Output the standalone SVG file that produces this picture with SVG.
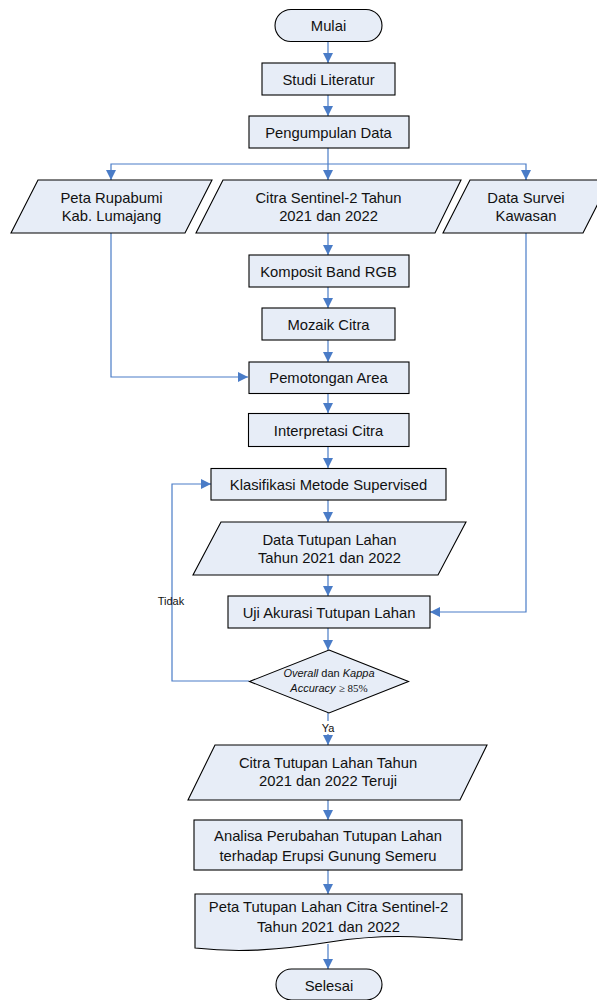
<svg xmlns="http://www.w3.org/2000/svg" width="597" height="1000" viewBox="0 0 597 1000">
<style>
.n{fill:#e7edf7;stroke:#000;stroke-width:1.1}
.t{font-family:"Liberation Sans",Arial,sans-serif;font-size:14.8px;fill:#111;text-anchor:middle}
.s{font-family:"Liberation Sans",Arial,sans-serif;font-size:11px;fill:#111;text-anchor:middle}
.c{fill:none;stroke:#4a7cc7;stroke-width:1.2}
</style>
<defs>
<marker id="a" markerUnits="userSpaceOnUse" markerWidth="10" markerHeight="10" viewBox="0 0 10 10" refX="10" refY="5" orient="auto">
<path d="M0,0 L10,5 L0,10 Z" fill="#4a7cc7"/>
</marker>
</defs>
<rect width="597" height="1000" fill="#fff"/>
<g id="connectors">
<path class="c" d="M328,42 V63" marker-end="url(#a)"/>
<path class="c" d="M328,95 V116" marker-end="url(#a)"/>
<path class="c" d="M328,148 V180" marker-end="url(#a)"/>
<path class="c" d="M328,164 H111 V180" marker-end="url(#a)"/>
<path class="c" d="M328,164 H526 V180" marker-end="url(#a)"/>
<path class="c" d="M328,233 V255" marker-end="url(#a)"/>
<path class="c" d="M328,287 V308" marker-end="url(#a)"/>
<path class="c" d="M328,340 V362" marker-end="url(#a)"/>
<path class="c" d="M111,233 V377 H248" marker-end="url(#a)"/>
<path class="c" d="M328,393 V413" marker-end="url(#a)"/>
<path class="c" d="M328,447 V468" marker-end="url(#a)"/>
<path class="c" d="M328,500 V522" marker-end="url(#a)"/>
<path class="c" d="M328,575 V596" marker-end="url(#a)"/>
<path class="c" d="M526,233 V612 H430" marker-end="url(#a)"/>
<path class="c" d="M328,628 V650" marker-end="url(#a)"/>
<path class="c" d="M249,681 H172 V484 H211" marker-end="url(#a)"/>
<path class="c" d="M328,713 V745" marker-end="url(#a)"/>
<path class="c" d="M328,800 V820" marker-end="url(#a)"/>
<path class="c" d="M328,870 V894" marker-end="url(#a)"/>
<path class="c" d="M328,944 V969" marker-end="url(#a)"/>
<rect x="318" y="721" width="20" height="13" fill="#fff"/>
<text class="s" x="328" y="732">Ya</text>
<text class="s" x="171" y="605">Tidak</text>
</g>
<g id="mulai">
<rect class="n" x="275" y="9.5" width="107" height="32" rx="16"/>
<text class="t" x="328.5" y="31">Mulai</text>
</g>
<g id="studi">
<rect class="n" x="262" y="63" width="133" height="32"/>
<text class="t" x="328.5" y="84.5">Studi Literatur</text>
</g>
<g id="pengumpulan">
<rect class="n" x="249" y="116" width="160" height="32"/>
<text class="t" x="328.5" y="137.5">Pengumpulan Data</text>
</g>
<g id="peta-rupabumi">
<polygon class="n" points="38,180 212,180 185,233 11,233"/>
<text class="t" x="111.5" y="203">Peta Rupabumi</text>
<text class="t" x="111.5" y="221">Kab. Lumajang</text>
</g>
<g id="citra-sentinel">
<polygon class="n" points="223,180 461,180 435,233 196,233"/>
<text class="t" x="328.5" y="203">Citra Sentinel-2 Tahun</text>
<text class="t" x="328.5" y="221">2021 dan 2022</text>
</g>
<g id="data-survei">
<polygon class="n" points="470,180 610,180 583,233 443,233"/>
<text class="t" x="526" y="203">Data Survei</text>
<text class="t" x="526" y="221">Kawasan</text>
</g>
<g id="komposit">
<rect class="n" x="249" y="255" width="160" height="32"/>
<text class="t" x="328.5" y="276.5">Komposit Band RGB</text>
</g>
<g id="mozaik">
<rect class="n" x="262" y="308" width="133" height="32"/>
<text class="t" x="328.5" y="329.5">Mozaik Citra</text>
</g>
<g id="pemotongan">
<rect class="n" x="249" y="362" width="160" height="31.5"/>
<text class="t" x="328.5" y="383">Pemotongan Area</text>
</g>
<g id="interpretasi">
<rect class="n" x="248.5" y="413.5" width="160.5" height="33"/>
<text class="t" x="328.5" y="435.5">Interpretasi Citra</text>
</g>
<g id="klasifikasi">
<rect class="n" x="211" y="468.5" width="235" height="31.5"/>
<text class="t" x="328.5" y="489.5">Klasifikasi Metode Supervised</text>
</g>
<g id="data-tutupan">
<polygon class="n" points="221,522 466,522 438,575 193,575"/>
<text class="t" x="329.5" y="545">Data Tutupan Lahan</text>
<text class="t" x="329.5" y="563">Tahun 2021 dan 2022</text>
</g>
<g id="uji-akurasi">
<rect class="n" x="228" y="596" width="202" height="32"/>
<text class="t" x="329" y="617.5">Uji Akurasi Tutupan Lahan</text>
</g>
<g id="keputusan">
<polygon class="n" points="329,650 408.5,681.5 329,713 249.5,681.5"/>
<text class="s" x="329" y="677"><tspan font-style="italic">Overall</tspan> dan <tspan font-style="italic">Kappa</tspan></text>
<text class="s" x="329" y="692"><tspan font-style="italic">Accuracy</tspan> <tspan font-family="'Liberation Serif',serif">≥ 85%</tspan></text>
</g>
<g id="citra-teruji">
<polygon class="n" points="215,745 487,745 460,800 188,800"/>
<text class="t" x="328" y="768">Citra Tutupan Lahan Tahun</text>
<text class="t" x="328" y="786">2021 dan 2022 Teruji</text>
</g>
<g id="analisa">
<rect class="n" x="194" y="820" width="268" height="50"/>
<text class="t" x="328" y="841">Analisa Perubahan Tutupan Lahan</text>
<text class="t" x="328" y="861">terhadap Erupsi Gunung Semeru</text>
</g>
<g id="peta-tutupan">
<path class="n" d="M195,894 H462 V940 C420,936 380,934 330,942 C280,950 240,953 195,948 Z"/>
<text class="t" x="328.5" y="912">Peta Tutupan Lahan Citra Sentinel-2</text>
<text class="t" x="328.5" y="932">Tahun 2021 dan 2022</text>
</g>
<g id="selesai">
<rect class="n" x="276" y="969" width="106" height="31" rx="15.5"/>
<text class="t" x="329" y="991">Selesai</text>
</g>
</svg>
